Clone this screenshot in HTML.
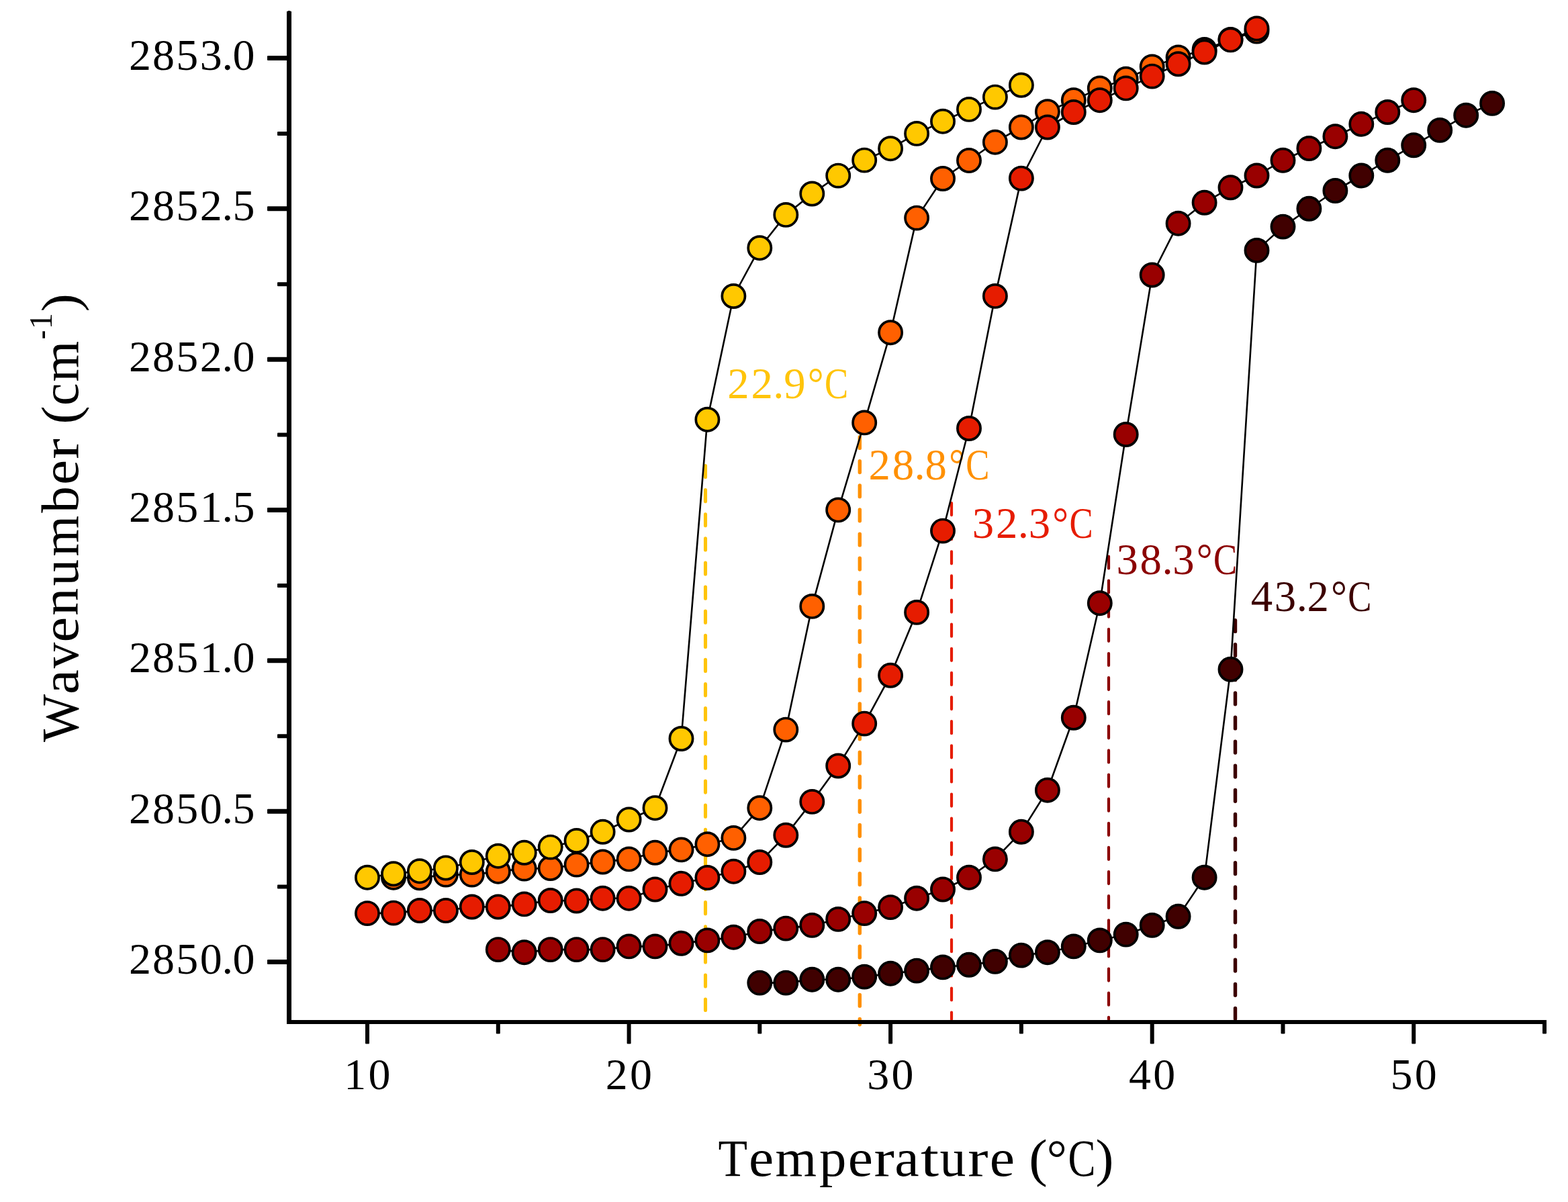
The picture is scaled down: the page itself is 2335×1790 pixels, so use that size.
<!DOCTYPE html>
<html lang="en"><head><meta charset="utf-8"><title>Wavenumber vs Temperature</title>
<style>html,body{margin:0;padding:0;background:#fff;overflow:hidden}svg{display:block}text{font-family:"Liberation Serif","DejaVu Serif",serif;font-kerning:none}</style>
</head><body>
<svg width="2335" height="1790" viewBox="0 0 2335 1790" role="img" aria-label="Wavenumber versus temperature">
<rect width="2335" height="1790" fill="#fff"/>
<g fill="none" stroke-linecap="round">
<line x1="1050.5" y1="693.45" x2="1050.5" y2="1504.45" stroke="#FFC40A" stroke-width="5.1" stroke-dasharray="17.10 19.02"/>
<line x1="1280.3" y1="650.60" x2="1280.3" y2="1525.80" stroke="#FF9000" stroke-width="5.4" stroke-dasharray="16.80 19.32"/>
<line x1="1417.0" y1="749.10" x2="1417.0" y2="1517.90" stroke="#E61C00" stroke-width="4.2" stroke-dasharray="18.00 18.12"/>
<line x1="1651.0" y1="828.50" x2="1651.0" y2="1517.90" stroke="#8B0000" stroke-width="4.2" stroke-dasharray="18.00 18.12"/>
<line x1="1839.5" y1="923.60" x2="1839.5" y2="1517.30" stroke="#3C0000" stroke-width="5.4" stroke-dasharray="16.80 19.32"/>
</g>
<g font-size="64.9">
<text y="593.3" fill="#FFC40A"><tspan x="1083.35" textLength="32.39" lengthAdjust="spacingAndGlyphs">2</tspan><tspan x="1118.55" textLength="32.39" lengthAdjust="spacingAndGlyphs">2</tspan><tspan x="1151.35" textLength="16.19" lengthAdjust="spacingAndGlyphs">.</tspan><tspan x="1167.25" textLength="32.39" lengthAdjust="spacingAndGlyphs">9</tspan><tspan x="1202.70" textLength="23.87" lengthAdjust="spacingAndGlyphs">°</tspan><tspan x="1227.99" textLength="35.17" lengthAdjust="spacingAndGlyphs">C</tspan></text>
<text y="714.3" fill="#FF9000"><tspan x="1293.55" textLength="32.39" lengthAdjust="spacingAndGlyphs">2</tspan><tspan x="1328.75" textLength="32.39" lengthAdjust="spacingAndGlyphs">8</tspan><tspan x="1361.55" textLength="16.19" lengthAdjust="spacingAndGlyphs">.</tspan><tspan x="1377.45" textLength="32.39" lengthAdjust="spacingAndGlyphs">8</tspan><tspan x="1412.90" textLength="23.87" lengthAdjust="spacingAndGlyphs">°</tspan><tspan x="1438.19" textLength="35.17" lengthAdjust="spacingAndGlyphs">C</tspan></text>
<text y="801.1" fill="#E61C00"><tspan x="1447.80" textLength="32.39" lengthAdjust="spacingAndGlyphs">3</tspan><tspan x="1483.00" textLength="32.39" lengthAdjust="spacingAndGlyphs">2</tspan><tspan x="1515.80" textLength="16.19" lengthAdjust="spacingAndGlyphs">.</tspan><tspan x="1531.70" textLength="32.39" lengthAdjust="spacingAndGlyphs">3</tspan><tspan x="1567.14" textLength="23.87" lengthAdjust="spacingAndGlyphs">°</tspan><tspan x="1592.44" textLength="35.17" lengthAdjust="spacingAndGlyphs">C</tspan></text>
<text y="855.3" fill="#8B0000"><tspan x="1662.40" textLength="32.39" lengthAdjust="spacingAndGlyphs">3</tspan><tspan x="1697.60" textLength="32.39" lengthAdjust="spacingAndGlyphs">8</tspan><tspan x="1730.40" textLength="16.19" lengthAdjust="spacingAndGlyphs">.</tspan><tspan x="1746.30" textLength="32.39" lengthAdjust="spacingAndGlyphs">3</tspan><tspan x="1781.74" textLength="23.87" lengthAdjust="spacingAndGlyphs">°</tspan><tspan x="1807.04" textLength="35.17" lengthAdjust="spacingAndGlyphs">C</tspan></text>
<text y="909.5" fill="#3C0000"><tspan x="1862.63" textLength="32.39" lengthAdjust="spacingAndGlyphs">4</tspan><tspan x="1897.83" textLength="32.39" lengthAdjust="spacingAndGlyphs">3</tspan><tspan x="1930.63" textLength="16.19" lengthAdjust="spacingAndGlyphs">.</tspan><tspan x="1946.53" textLength="32.39" lengthAdjust="spacingAndGlyphs">2</tspan><tspan x="1981.98" textLength="23.87" lengthAdjust="spacingAndGlyphs">°</tspan><tspan x="2007.27" textLength="35.17" lengthAdjust="spacingAndGlyphs">C</tspan></text>
</g>
<polyline points="1131.3,1463.6 1170.3,1463.6 1209.3,1458.7 1248.2,1458.7 1287.2,1454.6 1326.1,1449.7 1365.1,1445.6 1404.0,1440.4 1443.0,1436.8 1481.9,1431.9 1520.9,1422.6 1559.9,1418.2 1598.8,1409.4 1637.8,1400.4 1676.7,1391.6 1715.7,1377.9 1754.6,1364.8 1793.6,1306.7 1832.5,996.8 1871.5,372.9 1910.5,337.6 1949.4,310.8 1988.4,284.0 2027.3,261.5 2066.3,238.8 2105.2,216.3 2144.2,193.9 2183.2,171.7 2222.1,153.9" fill="none" stroke="#000" stroke-width="2.6" stroke-linejoin="round"/>
<g fill="#400000" stroke="#000" stroke-width="3.7">
<circle cx="1131.3" cy="1463.6" r="17.1"/>
<circle cx="1170.3" cy="1463.6" r="17.1"/>
<circle cx="1209.3" cy="1458.7" r="17.1"/>
<circle cx="1248.2" cy="1458.7" r="17.1"/>
<circle cx="1287.2" cy="1454.6" r="17.1"/>
<circle cx="1326.1" cy="1449.7" r="17.1"/>
<circle cx="1365.1" cy="1445.6" r="17.1"/>
<circle cx="1404.0" cy="1440.4" r="17.1"/>
<circle cx="1443.0" cy="1436.8" r="17.1"/>
<circle cx="1481.9" cy="1431.9" r="17.1"/>
<circle cx="1520.9" cy="1422.6" r="17.1"/>
<circle cx="1559.9" cy="1418.2" r="17.1"/>
<circle cx="1598.8" cy="1409.4" r="17.1"/>
<circle cx="1637.8" cy="1400.4" r="17.1"/>
<circle cx="1676.7" cy="1391.6" r="17.1"/>
<circle cx="1715.7" cy="1377.9" r="17.1"/>
<circle cx="1754.6" cy="1364.8" r="17.1"/>
<circle cx="1793.6" cy="1306.7" r="17.1"/>
<circle cx="1832.5" cy="996.8" r="17.1"/>
<circle cx="1871.5" cy="372.9" r="17.1"/>
<circle cx="1910.5" cy="337.6" r="17.1"/>
<circle cx="1949.4" cy="310.8" r="17.1"/>
<circle cx="1988.4" cy="284.0" r="17.1"/>
<circle cx="2027.3" cy="261.5" r="17.1"/>
<circle cx="2066.3" cy="238.8" r="17.1"/>
<circle cx="2105.2" cy="216.3" r="17.1"/>
<circle cx="2144.2" cy="193.9" r="17.1"/>
<circle cx="2183.2" cy="171.7" r="17.1"/>
<circle cx="2222.1" cy="153.9" r="17.1"/>
</g>
<polyline points="741.8,1414.1 780.7,1418.2 819.7,1414.1 858.6,1414.1 897.6,1414.1 936.6,1409.4 975.5,1409.4 1014.5,1404.8 1053.4,1400.4 1092.4,1395.7 1131.3,1387.0 1170.3,1382.6 1209.3,1377.9 1248.2,1368.9 1287.2,1360.1 1326.1,1351.1 1365.1,1337.7 1404.0,1324.5 1443.0,1306.7 1481.9,1279.4 1520.9,1238.8 1559.9,1176.7 1598.8,1068.8 1637.8,898.2 1676.7,647.0 1715.7,409.5 1754.6,332.7 1793.6,301.8 1832.5,279.3 1871.5,261.5 1910.5,238.8 1949.4,221.0 1988.4,203.2 2027.3,184.8 2066.3,167.0 2105.2,149.2" fill="none" stroke="#000" stroke-width="2.6" stroke-linejoin="round"/>
<g fill="#990000" stroke="#000" stroke-width="3.7">
<circle cx="741.8" cy="1414.1" r="17.1"/>
<circle cx="780.7" cy="1418.2" r="17.1"/>
<circle cx="819.7" cy="1414.1" r="17.1"/>
<circle cx="858.6" cy="1414.1" r="17.1"/>
<circle cx="897.6" cy="1414.1" r="17.1"/>
<circle cx="936.6" cy="1409.4" r="17.1"/>
<circle cx="975.5" cy="1409.4" r="17.1"/>
<circle cx="1014.5" cy="1404.8" r="17.1"/>
<circle cx="1053.4" cy="1400.4" r="17.1"/>
<circle cx="1092.4" cy="1395.7" r="17.1"/>
<circle cx="1131.3" cy="1387.0" r="17.1"/>
<circle cx="1170.3" cy="1382.6" r="17.1"/>
<circle cx="1209.3" cy="1377.9" r="17.1"/>
<circle cx="1248.2" cy="1368.9" r="17.1"/>
<circle cx="1287.2" cy="1360.1" r="17.1"/>
<circle cx="1326.1" cy="1351.1" r="17.1"/>
<circle cx="1365.1" cy="1337.7" r="17.1"/>
<circle cx="1404.0" cy="1324.5" r="17.1"/>
<circle cx="1443.0" cy="1306.7" r="17.1"/>
<circle cx="1481.9" cy="1279.4" r="17.1"/>
<circle cx="1520.9" cy="1238.8" r="17.1"/>
<circle cx="1559.9" cy="1176.7" r="17.1"/>
<circle cx="1598.8" cy="1068.8" r="17.1"/>
<circle cx="1637.8" cy="898.2" r="17.1"/>
<circle cx="1676.7" cy="647.0" r="17.1"/>
<circle cx="1715.7" cy="409.5" r="17.1"/>
<circle cx="1754.6" cy="332.7" r="17.1"/>
<circle cx="1793.6" cy="301.8" r="17.1"/>
<circle cx="1832.5" cy="279.3" r="17.1"/>
<circle cx="1871.5" cy="261.5" r="17.1"/>
<circle cx="1910.5" cy="238.8" r="17.1"/>
<circle cx="1949.4" cy="221.0" r="17.1"/>
<circle cx="1988.4" cy="203.2" r="17.1"/>
<circle cx="2027.3" cy="184.8" r="17.1"/>
<circle cx="2066.3" cy="167.0" r="17.1"/>
<circle cx="2105.2" cy="149.2" r="17.1"/>
</g>
<polyline points="586.0,1306.7 624.9,1307.3 663.9,1302.6 702.8,1302.6 741.8,1297.7 780.7,1293.6 819.7,1293.0 858.6,1287.6 897.6,1283.5 936.6,1279.4 975.5,1269.8 1014.5,1265.4 1053.4,1257.2 1092.4,1247.9 1131.3,1203.2 1170.3,1086.6 1209.3,902.9 1248.2,759.4 1287.2,629.4 1326.1,495.2 1365.1,324.6 1404.0,266.0 1443.0,239.0 1481.9,211.7 1520.9,189.5 1559.9,166.2 1598.8,149.2 1637.8,131.4 1676.7,117.7 1715.7,99.4 1754.6,85.4 1793.6,73.9 1832.5,58.9 1871.5,46.5" fill="none" stroke="#000" stroke-width="2.6" stroke-linejoin="round"/>
<g fill="#FF6000" stroke="#000" stroke-width="3.7">
<circle cx="586.0" cy="1306.7" r="17.1"/>
<circle cx="624.9" cy="1307.3" r="17.1"/>
<circle cx="663.9" cy="1302.6" r="17.1"/>
<circle cx="702.8" cy="1302.6" r="17.1"/>
<circle cx="741.8" cy="1297.7" r="17.1"/>
<circle cx="780.7" cy="1293.6" r="17.1"/>
<circle cx="819.7" cy="1293.0" r="17.1"/>
<circle cx="858.6" cy="1287.6" r="17.1"/>
<circle cx="897.6" cy="1283.5" r="17.1"/>
<circle cx="936.6" cy="1279.4" r="17.1"/>
<circle cx="975.5" cy="1269.8" r="17.1"/>
<circle cx="1014.5" cy="1265.4" r="17.1"/>
<circle cx="1053.4" cy="1257.2" r="17.1"/>
<circle cx="1092.4" cy="1247.9" r="17.1"/>
<circle cx="1131.3" cy="1203.2" r="17.1"/>
<circle cx="1170.3" cy="1086.6" r="17.1"/>
<circle cx="1209.3" cy="902.9" r="17.1"/>
<circle cx="1248.2" cy="759.4" r="17.1"/>
<circle cx="1287.2" cy="629.4" r="17.1"/>
<circle cx="1326.1" cy="495.2" r="17.1"/>
<circle cx="1365.1" cy="324.6" r="17.1"/>
<circle cx="1404.0" cy="266.0" r="17.1"/>
<circle cx="1443.0" cy="239.0" r="17.1"/>
<circle cx="1481.9" cy="211.7" r="17.1"/>
<circle cx="1520.9" cy="189.5" r="17.1"/>
<circle cx="1559.9" cy="166.2" r="17.1"/>
<circle cx="1598.8" cy="149.2" r="17.1"/>
<circle cx="1637.8" cy="131.4" r="17.1"/>
<circle cx="1676.7" cy="117.7" r="17.1"/>
<circle cx="1715.7" cy="99.4" r="17.1"/>
<circle cx="1754.6" cy="85.4" r="17.1"/>
<circle cx="1793.6" cy="73.9" r="17.1"/>
<circle cx="1832.5" cy="58.9" r="17.1"/>
<circle cx="1871.5" cy="46.5" r="17.1"/>
</g>
<polyline points="547.0,1360.1 586.0,1359.6 624.9,1356.0 663.9,1356.0 702.8,1350.5 741.8,1350.5 780.7,1346.4 819.7,1341.0 858.6,1341.5 897.6,1337.7 936.6,1337.7 975.5,1324.5 1014.5,1315.8 1053.4,1307.0 1092.4,1297.7 1131.3,1284.0 1170.3,1243.8 1209.3,1193.9 1248.2,1140.5 1287.2,1077.6 1326.1,1005.8 1365.1,911.9 1404.0,790.6 1443.0,638.0 1481.9,440.9 1520.9,265.6 1559.9,189.5 1598.8,167.0 1637.8,149.2 1676.7,131.4 1715.7,113.6 1754.6,95.3 1793.6,77.5 1832.5,59.4 1871.5,42.4" fill="none" stroke="#000" stroke-width="2.6" stroke-linejoin="round"/>
<g fill="#E61C00" stroke="#000" stroke-width="3.7">
<circle cx="547.0" cy="1360.1" r="17.1"/>
<circle cx="586.0" cy="1359.6" r="17.1"/>
<circle cx="624.9" cy="1356.0" r="17.1"/>
<circle cx="663.9" cy="1356.0" r="17.1"/>
<circle cx="702.8" cy="1350.5" r="17.1"/>
<circle cx="741.8" cy="1350.5" r="17.1"/>
<circle cx="780.7" cy="1346.4" r="17.1"/>
<circle cx="819.7" cy="1341.0" r="17.1"/>
<circle cx="858.6" cy="1341.5" r="17.1"/>
<circle cx="897.6" cy="1337.7" r="17.1"/>
<circle cx="936.6" cy="1337.7" r="17.1"/>
<circle cx="975.5" cy="1324.5" r="17.1"/>
<circle cx="1014.5" cy="1315.8" r="17.1"/>
<circle cx="1053.4" cy="1307.0" r="17.1"/>
<circle cx="1092.4" cy="1297.7" r="17.1"/>
<circle cx="1131.3" cy="1284.0" r="17.1"/>
<circle cx="1170.3" cy="1243.8" r="17.1"/>
<circle cx="1209.3" cy="1193.9" r="17.1"/>
<circle cx="1248.2" cy="1140.5" r="17.1"/>
<circle cx="1287.2" cy="1077.6" r="17.1"/>
<circle cx="1326.1" cy="1005.8" r="17.1"/>
<circle cx="1365.1" cy="911.9" r="17.1"/>
<circle cx="1404.0" cy="790.6" r="17.1"/>
<circle cx="1443.0" cy="638.0" r="17.1"/>
<circle cx="1481.9" cy="440.9" r="17.1"/>
<circle cx="1520.9" cy="265.6" r="17.1"/>
<circle cx="1559.9" cy="189.5" r="17.1"/>
<circle cx="1598.8" cy="167.0" r="17.1"/>
<circle cx="1637.8" cy="149.2" r="17.1"/>
<circle cx="1676.7" cy="131.4" r="17.1"/>
<circle cx="1715.7" cy="113.6" r="17.1"/>
<circle cx="1754.6" cy="95.3" r="17.1"/>
<circle cx="1793.6" cy="77.5" r="17.1"/>
<circle cx="1832.5" cy="59.4" r="17.1"/>
<circle cx="1871.5" cy="42.4" r="17.1"/>
</g>
<polyline points="547.0,1306.7 586.0,1301.3 624.9,1297.2 663.9,1292.5 702.8,1284.0 741.8,1274.7 780.7,1269.8 819.7,1261.6 858.6,1252.0 897.6,1238.8 936.6,1220.5 975.5,1203.2 1014.5,1100.0 1053.4,624.7 1092.4,441.0 1131.3,369.2 1170.3,319.9 1209.3,288.5 1248.2,261.6 1287.2,238.6 1326.1,221.2 1365.1,198.9 1404.0,180.7 1443.0,162.9 1481.9,144.6 1520.9,126.8" fill="none" stroke="#000" stroke-width="2.6" stroke-linejoin="round"/>
<g fill="#FFC800" stroke="#000" stroke-width="3.7">
<circle cx="547.0" cy="1306.7" r="17.1"/>
<circle cx="586.0" cy="1301.3" r="17.1"/>
<circle cx="624.9" cy="1297.2" r="17.1"/>
<circle cx="663.9" cy="1292.5" r="17.1"/>
<circle cx="702.8" cy="1284.0" r="17.1"/>
<circle cx="741.8" cy="1274.7" r="17.1"/>
<circle cx="780.7" cy="1269.8" r="17.1"/>
<circle cx="819.7" cy="1261.6" r="17.1"/>
<circle cx="858.6" cy="1252.0" r="17.1"/>
<circle cx="897.6" cy="1238.8" r="17.1"/>
<circle cx="936.6" cy="1220.5" r="17.1"/>
<circle cx="975.5" cy="1203.2" r="17.1"/>
<circle cx="1014.5" cy="1100.0" r="17.1"/>
<circle cx="1053.4" cy="624.7" r="17.1"/>
<circle cx="1092.4" cy="441.0" r="17.1"/>
<circle cx="1131.3" cy="369.2" r="17.1"/>
<circle cx="1170.3" cy="319.9" r="17.1"/>
<circle cx="1209.3" cy="288.5" r="17.1"/>
<circle cx="1248.2" cy="261.6" r="17.1"/>
<circle cx="1287.2" cy="238.6" r="17.1"/>
<circle cx="1326.1" cy="221.2" r="17.1"/>
<circle cx="1365.1" cy="198.9" r="17.1"/>
<circle cx="1404.0" cy="180.7" r="17.1"/>
<circle cx="1443.0" cy="162.9" r="17.1"/>
<circle cx="1481.9" cy="144.6" r="17.1"/>
<circle cx="1520.9" cy="126.8" r="17.1"/>
</g>
<g fill="#000">
<rect x="427" y="17" width="7" height="1508"/>
<rect x="428.5" y="16" width="4" height="2"/>
<rect x="427" y="1519" width="1876" height="6"/>
<rect x="398" y="1429.0" width="30" height="7" rx="1"/>
<rect x="413" y="1317.5" width="15" height="6" rx="1"/>
<rect x="398" y="1204.7" width="30" height="7" rx="1"/>
<rect x="413" y="1093.2" width="15" height="6" rx="1"/>
<rect x="398" y="980.3" width="30" height="7" rx="1"/>
<rect x="413" y="868.9" width="15" height="6" rx="1"/>
<rect x="398" y="756.0" width="30" height="7" rx="1"/>
<rect x="413" y="644.5" width="15" height="6" rx="1"/>
<rect x="398" y="531.7" width="30" height="7" rx="1"/>
<rect x="413" y="420.2" width="15" height="6" rx="1"/>
<rect x="398" y="307.3" width="30" height="7" rx="1"/>
<rect x="413" y="195.9" width="15" height="6" rx="1"/>
<rect x="398" y="83.0" width="30" height="7" rx="1"/>
<rect x="544.0" y="1520" width="6" height="34.5" rx="1"/>
<rect x="738.8" y="1520" width="6" height="19.5" rx="1"/>
<rect x="933.6" y="1520" width="6" height="34.5" rx="1"/>
<rect x="1128.3" y="1520" width="6" height="19.5" rx="1"/>
<rect x="1323.1" y="1520" width="6" height="34.5" rx="1"/>
<rect x="1517.9" y="1520" width="6" height="19.5" rx="1"/>
<rect x="1712.7" y="1520" width="6" height="34.5" rx="1"/>
<rect x="1907.5" y="1520" width="6" height="19.5" rx="1"/>
<rect x="2102.2" y="1520" width="6" height="34.5" rx="1"/>
<rect x="2297.0" y="1520" width="6" height="19.5" rx="1"/>
</g>
<g font-size="65.7" fill="#000">
<text y="1449.9"><tspan x="191.90" textLength="32.96" lengthAdjust="spacingAndGlyphs">2</tspan><tspan x="226.90" textLength="32.96" lengthAdjust="spacingAndGlyphs">8</tspan><tspan x="262.20" textLength="32.96" lengthAdjust="spacingAndGlyphs">5</tspan><tspan x="297.70" textLength="32.96" lengthAdjust="spacingAndGlyphs">0</tspan><tspan x="330.50" textLength="16.48" lengthAdjust="spacingAndGlyphs">.</tspan><tspan x="346.50" textLength="32.96" lengthAdjust="spacingAndGlyphs">0</tspan></text>
<text y="1225.6"><tspan x="191.90" textLength="32.96" lengthAdjust="spacingAndGlyphs">2</tspan><tspan x="226.90" textLength="32.96" lengthAdjust="spacingAndGlyphs">8</tspan><tspan x="262.20" textLength="32.96" lengthAdjust="spacingAndGlyphs">5</tspan><tspan x="297.70" textLength="32.96" lengthAdjust="spacingAndGlyphs">0</tspan><tspan x="330.50" textLength="16.48" lengthAdjust="spacingAndGlyphs">.</tspan><tspan x="346.50" textLength="32.96" lengthAdjust="spacingAndGlyphs">5</tspan></text>
<text y="1001.2"><tspan x="191.90" textLength="32.96" lengthAdjust="spacingAndGlyphs">2</tspan><tspan x="226.90" textLength="32.96" lengthAdjust="spacingAndGlyphs">8</tspan><tspan x="262.20" textLength="32.96" lengthAdjust="spacingAndGlyphs">5</tspan><tspan x="297.70" textLength="32.96" lengthAdjust="spacingAndGlyphs">1</tspan><tspan x="330.50" textLength="16.48" lengthAdjust="spacingAndGlyphs">.</tspan><tspan x="346.50" textLength="32.96" lengthAdjust="spacingAndGlyphs">0</tspan></text>
<text y="776.9"><tspan x="191.90" textLength="32.96" lengthAdjust="spacingAndGlyphs">2</tspan><tspan x="226.90" textLength="32.96" lengthAdjust="spacingAndGlyphs">8</tspan><tspan x="262.20" textLength="32.96" lengthAdjust="spacingAndGlyphs">5</tspan><tspan x="297.70" textLength="32.96" lengthAdjust="spacingAndGlyphs">1</tspan><tspan x="330.50" textLength="16.48" lengthAdjust="spacingAndGlyphs">.</tspan><tspan x="346.50" textLength="32.96" lengthAdjust="spacingAndGlyphs">5</tspan></text>
<text y="552.6"><tspan x="191.90" textLength="32.96" lengthAdjust="spacingAndGlyphs">2</tspan><tspan x="226.90" textLength="32.96" lengthAdjust="spacingAndGlyphs">8</tspan><tspan x="262.20" textLength="32.96" lengthAdjust="spacingAndGlyphs">5</tspan><tspan x="297.70" textLength="32.96" lengthAdjust="spacingAndGlyphs">2</tspan><tspan x="330.50" textLength="16.48" lengthAdjust="spacingAndGlyphs">.</tspan><tspan x="346.50" textLength="32.96" lengthAdjust="spacingAndGlyphs">0</tspan></text>
<text y="328.2"><tspan x="191.90" textLength="32.96" lengthAdjust="spacingAndGlyphs">2</tspan><tspan x="226.90" textLength="32.96" lengthAdjust="spacingAndGlyphs">8</tspan><tspan x="262.20" textLength="32.96" lengthAdjust="spacingAndGlyphs">5</tspan><tspan x="297.70" textLength="32.96" lengthAdjust="spacingAndGlyphs">2</tspan><tspan x="330.50" textLength="16.48" lengthAdjust="spacingAndGlyphs">.</tspan><tspan x="346.50" textLength="32.96" lengthAdjust="spacingAndGlyphs">5</tspan></text>
<text y="103.9"><tspan x="191.90" textLength="32.96" lengthAdjust="spacingAndGlyphs">2</tspan><tspan x="226.90" textLength="32.96" lengthAdjust="spacingAndGlyphs">8</tspan><tspan x="262.20" textLength="32.96" lengthAdjust="spacingAndGlyphs">5</tspan><tspan x="297.70" textLength="32.96" lengthAdjust="spacingAndGlyphs">3</tspan><tspan x="330.50" textLength="16.48" lengthAdjust="spacingAndGlyphs">.</tspan><tspan x="346.50" textLength="32.96" lengthAdjust="spacingAndGlyphs">0</tspan></text>
<text y="1622.4"><tspan x="512.20" textLength="32.96" lengthAdjust="spacingAndGlyphs">1</tspan><tspan x="548.50" textLength="32.96" lengthAdjust="spacingAndGlyphs">0</tspan></text>
<text y="1622.4"><tspan x="901.76" textLength="32.96" lengthAdjust="spacingAndGlyphs">2</tspan><tspan x="938.06" textLength="32.96" lengthAdjust="spacingAndGlyphs">0</tspan></text>
<text y="1622.4"><tspan x="1291.32" textLength="32.96" lengthAdjust="spacingAndGlyphs">3</tspan><tspan x="1327.62" textLength="32.96" lengthAdjust="spacingAndGlyphs">0</tspan></text>
<text y="1622.4"><tspan x="1680.88" textLength="32.96" lengthAdjust="spacingAndGlyphs">4</tspan><tspan x="1717.18" textLength="32.96" lengthAdjust="spacingAndGlyphs">0</tspan></text>
<text y="1622.4"><tspan x="2070.44" textLength="32.96" lengthAdjust="spacingAndGlyphs">5</tspan><tspan x="2106.74" textLength="32.96" lengthAdjust="spacingAndGlyphs">0</tspan></text>
</g>
<text y="1750.6" font-size="79.2" fill="#000"><tspan x="1069.61" textLength="43.57" lengthAdjust="spacingAndGlyphs">T</tspan><tspan x="1114.93" textLength="37.18" lengthAdjust="spacingAndGlyphs">e</tspan><tspan x="1154.54" textLength="61.60" lengthAdjust="spacingAndGlyphs">m</tspan><tspan x="1219.90" textLength="40.35" lengthAdjust="spacingAndGlyphs">p</tspan><tspan x="1262.73" textLength="37.18" lengthAdjust="spacingAndGlyphs">e</tspan><tspan x="1301.48" textLength="30.32" lengthAdjust="spacingAndGlyphs">r</tspan><tspan x="1332.22" textLength="36.40" lengthAdjust="spacingAndGlyphs">a</tspan><tspan x="1371.05" textLength="27.13" lengthAdjust="spacingAndGlyphs">t</tspan><tspan x="1399.38" textLength="38.85" lengthAdjust="spacingAndGlyphs">u</tspan><tspan x="1441.38" textLength="30.32" lengthAdjust="spacingAndGlyphs">r</tspan><tspan x="1473.72" textLength="37.30" lengthAdjust="spacingAndGlyphs">e</tspan> <tspan x="1532.27" textLength="27.49" lengthAdjust="spacingAndGlyphs">(</tspan><tspan x="1558.70" textLength="30.07" lengthAdjust="spacingAndGlyphs">°</tspan><tspan x="1590.58" textLength="41.02" lengthAdjust="spacingAndGlyphs">C</tspan><tspan x="1631.49" textLength="26.97" lengthAdjust="spacingAndGlyphs">)</tspan></text>
<text transform="translate(116.2,1105) rotate(-90)" y="0" font-size="79.2" fill="#000"><tspan x="-0.07" textLength="71.02" lengthAdjust="spacingAndGlyphs">W</tspan><tspan x="71.08" textLength="36.85" lengthAdjust="spacingAndGlyphs">a</tspan><tspan x="109.70" textLength="38.40" lengthAdjust="spacingAndGlyphs">v</tspan><tspan x="148.49" textLength="37.66" lengthAdjust="spacingAndGlyphs">e</tspan><tspan x="188.11" textLength="41.24" lengthAdjust="spacingAndGlyphs">n</tspan><tspan x="232.56" textLength="39.60" lengthAdjust="spacingAndGlyphs">u</tspan><tspan x="276.16" textLength="60.87" lengthAdjust="spacingAndGlyphs">m</tspan><tspan x="341.20" textLength="39.62" lengthAdjust="spacingAndGlyphs">b</tspan><tspan x="382.94" textLength="37.06" lengthAdjust="spacingAndGlyphs">e</tspan><tspan x="421.26" textLength="30.65" lengthAdjust="spacingAndGlyphs">r</tspan> <tspan x="473.27" textLength="27.49" lengthAdjust="spacingAndGlyphs">(</tspan><tspan x="501.35" textLength="33.26" lengthAdjust="spacingAndGlyphs">c</tspan><tspan x="536.15" textLength="61.08" lengthAdjust="spacingAndGlyphs">m</tspan><tspan x="599.70" textLength="13.46" lengthAdjust="spacingAndGlyphs" y="-39.5" font-size="49">-</tspan><tspan x="614.73" textLength="24.29" lengthAdjust="spacingAndGlyphs" y="-39.5" font-size="49">1</tspan><tspan x="640.57" textLength="27.23" lengthAdjust="spacingAndGlyphs" y="0">)</tspan></text>
</svg>
</body></html>
